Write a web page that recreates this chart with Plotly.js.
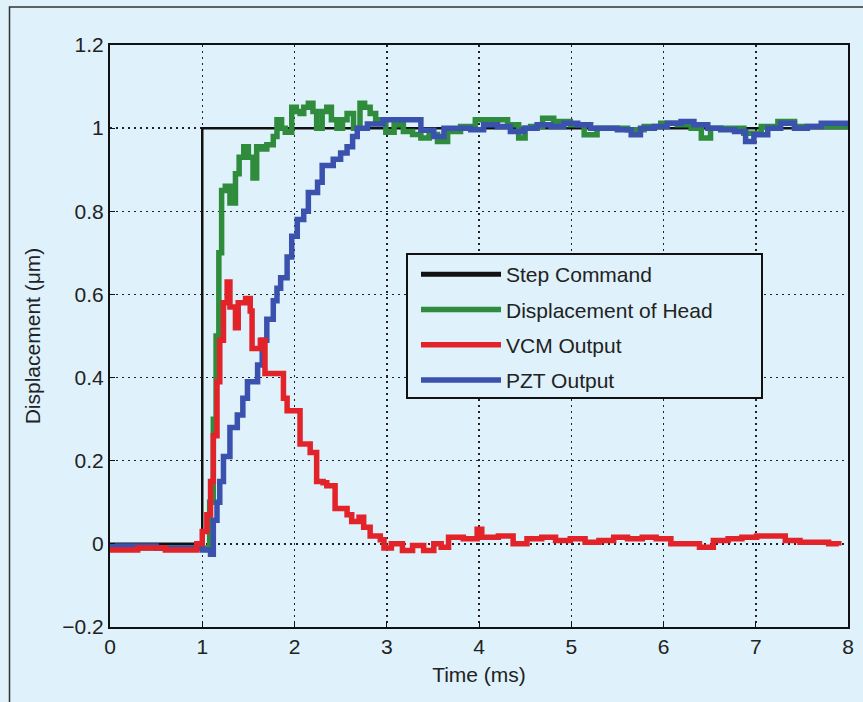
<!DOCTYPE html>
<html>
<head>
<meta charset="utf-8">
<script src="https://cdn.plot.ly/plotly-3.0.1.min.js"></script>
<style>html,body{margin:0;padding:0;background:#dff1fa;}#chart{width:863px;height:702px;}</style>
</head>
<body>
<div id="chart"></div>
<script>
// ---- data ----
var stepX = [0, 1, 8];
var stepY = [0, 1, 1];

var headX = [0, 1.08, 1.12, 1.15, 1.18, 1.21, 1.25, 1.30, 1.36, 1.40, 1.45, 1.50, 1.55, 1.59, 1.65, 1.70, 1.77, 1.81, 1.86, 1.90, 1.97, 2.02, 2.06, 2.10, 2.15, 2.20, 2.24, 2.30, 2.35, 2.40, 2.46, 2.52, 2.57, 2.64, 2.71, 2.76, 2.82, 2.88, 2.93, 2.99, 3.08, 3.18, 3.28, 3.37, 3.46, 3.55, 3.66, 3.80, 3.96, 4.13, 4.31, 4.43, 4.50, 4.56, 4.69, 4.81, 4.99, 5.14, 5.28, 5.43, 5.61, 5.79, 5.97, 6.15, 6.30, 6.41, 6.51, 6.69, 6.87, 7.06, 7.24, 7.42, 7.60, 7.89, 8.0];
var headY = [-0.01, 0.1, 0.3, 0.5, 0.7, 0.85, 0.86, 0.82, 0.89, 0.93, 0.955, 0.93, 0.88, 0.955, 0.95, 0.96, 0.98, 1.02, 1.0, 0.99, 1.05, 1.04, 1.035, 1.05, 1.06, 1.04, 1.0, 1.04, 1.05, 1.02, 1.0, 1.02, 1.035, 1.0, 1.06, 1.05, 1.035, 1.02, 1.02, 0.99, 1.008, 0.992, 0.985, 0.976, 0.985, 0.968, 0.992, 1.004, 1.02, 1.02, 1.008, 0.976, 1.0, 1.004, 1.024, 1.016, 1.008, 0.984, 1.0, 1.0, 0.996, 1.004, 1.012, 1.008, 1.0, 0.976, 1.0, 1.0, 0.988, 1.004, 1.016, 1.004, 1.004, 1.004, 1.004];

var vcmX = [0, 0.3, 0.6, 0.94, 1.0, 1.05, 1.09, 1.12, 1.16, 1.19, 1.23, 1.27, 1.30, 1.36, 1.39, 1.47, 1.52, 1.54, 1.63, 1.68, 1.81, 1.88, 1.92, 2.03, 2.06, 2.17, 2.24, 2.31, 2.35, 2.44, 2.57, 2.62, 2.70, 2.75, 2.82, 2.93, 2.97, 3.05, 3.17, 3.28, 3.40, 3.51, 3.59, 3.67, 3.83, 3.98, 4.03, 4.21, 4.37, 4.52, 4.68, 4.83, 4.99, 5.15, 5.30, 5.46, 5.61, 5.77, 5.92, 6.08, 6.23, 6.39, 6.54, 6.70, 6.85, 7.01, 7.17, 7.32, 7.48, 7.63, 7.79, 7.90];
var vcmY = [-0.015, -0.01, -0.015, 0.0, 0.03, 0.07, 0.15, 0.26, 0.39, 0.49, 0.58, 0.63, 0.57, 0.52, 0.58, 0.59, 0.56, 0.47, 0.49, 0.41, 0.41, 0.35, 0.32, 0.32, 0.24, 0.22, 0.15, 0.147, 0.14, 0.085, 0.07, 0.054, 0.064, 0.04, 0.019, 0.01, -0.01, 0.0, -0.016, -0.004, -0.016, 0.0, -0.008, 0.016, 0.012, 0.035, 0.016, 0.019, 0.0, 0.012, 0.016, 0.008, 0.012, 0.004, 0.008, 0.016, 0.012, 0.016, 0.012, 0.0, 0.0, -0.008, 0.008, 0.012, 0.016, 0.019, 0.019, 0.008, 0.004, 0.004, 0.0, -0.004];

var pztX = [0, 0.5, 0.9, 1.0, 1.09, 1.12, 1.16, 1.19, 1.23, 1.30, 1.38, 1.44, 1.49, 1.60, 1.65, 1.70, 1.77, 1.81, 1.85, 1.92, 1.97, 2.03, 2.10, 2.15, 2.25, 2.30, 2.42, 2.50, 2.57, 2.63, 2.68, 2.79, 2.96, 3.11, 3.25, 3.37, 3.51, 3.62, 3.80, 3.91, 4.05, 4.20, 4.34, 4.49, 4.63, 4.78, 4.92, 5.07, 5.21, 5.36, 5.50, 5.65, 5.75, 5.90, 6.04, 6.19, 6.33, 6.48, 6.62, 6.77, 6.89, 6.98, 7.13, 7.27, 7.42, 7.56, 7.71, 7.85, 8.0];
var pztY = [-0.005, -0.01, -0.01, -0.015, -0.025, 0.057, 0.1, 0.15, 0.21, 0.28, 0.31, 0.35, 0.39, 0.43, 0.49, 0.54, 0.585, 0.615, 0.64, 0.69, 0.74, 0.78, 0.80, 0.845, 0.87, 0.91, 0.925, 0.94, 0.955, 0.98, 1.0, 1.01, 1.02, 1.02, 1.02, 0.995, 0.98, 1.0, 1.0, 0.996, 1.008, 1.004, 0.992, 1.0, 1.008, 1.004, 1.012, 1.008, 1.0, 1.0, 0.996, 0.984, 1.0, 1.004, 1.012, 1.016, 1.008, 1.0, 0.996, 0.992, 0.968, 0.984, 1.0, 1.012, 1.0, 1.004, 1.012, 1.012, 1.004];

var seriesNames = ["Step Command", "Displacement of Head", "VCM Output", "PZT Output"];
var xTicks = [0, 1, 2, 3, 4, 5, 6, 7, 8];
var yTicks = [-0.2, 0, 0.2, 0.4, 0.6, 0.8, 1, 1.2];
var yTickText = ["\u22120.2", "0", "0.2", "0.4", "0.6", "0.8", "1", "1.2"];

// ---- styles ----
var BG = "#dff1fa";
var FONT = {family: "Liberation Sans, Arial, sans-serif", size: 21, color: "#222"};

function tr(x, y, name, color, width, rank, showleg) {
  return {x: x, y: y, name: name, type: "scatter", mode: "lines",
    line: {color: color, width: width, shape: "hv"},
    legendgroup: name, legendrank: rank, showlegend: showleg};
}

var data = [
  tr(stepX, stepY, seriesNames[0], "#111111", 2.5, 1, false),
  // legend-only entry so the legend swatch of the step command is drawn thick
  tr([null], [null], seriesNames[0], "#111111", 5, 1, true),
  tr(headX, headY, seriesNames[1], "#2f8c3c", 5.5, 2, true),
  tr(pztX, pztY, seriesNames[3], "#3a52ae", 5.5, 4, true),
  tr(vcmX, vcmY, seriesNames[2], "#e3232a", 5.5, 3, true)
];

var W = 863, H = 702, L = 110, R = 15, T = 45, B = 75;
var pw = W - L - R, ph = H - T - B;
function px(xp) { return (xp - L) / pw; }
function py(yp) { return (H - B - yp) / ph; }

var layout = {
  width: W, height: H,
  margin: {l: L, r: R, t: T, b: B},
  paper_bgcolor: BG, plot_bgcolor: BG,
  font: FONT,
  showlegend: true,
  xaxis: {
    range: [0, 8], tickvals: xTicks, ticktext: xTicks.map(String),
    showline: true, mirror: true, linecolor: "#111", linewidth: 2,
    ticks: "inside", ticklen: 5, tickcolor: "#111",
    showgrid: true, gridcolor: "#222", gridwidth: 1.5, griddash: "2px,4px",
    zeroline: false, tickfont: FONT,
    title: {text: "Time (ms)", font: FONT, standoff: 10}
  },
  yaxis: {
    range: [-0.2, 1.2], tickvals: yTicks, ticktext: yTickText,
    showline: true, mirror: true, linecolor: "#111", linewidth: 2,
    ticks: "inside", ticklen: 5, tickcolor: "#111",
    showgrid: true, gridcolor: "#222", gridwidth: 1.5, griddash: "2px,4px",
    zeroline: false, tickfont: FONT,
    title: {text: "Displacement (\u03bcm)", font: FONT, standoff: 16}
  },
  legend: {
    x: px(416), y: py(254), xanchor: "left", yanchor: "top",
    bgcolor: "rgba(0,0,0,0)", borderwidth: 0,
    font: FONT, itemwidth: 80, traceorder: "grouped", tracegroupgap: 5,
    itemclick: false
  },
  shapes: [
    {type: "rect", xref: "paper", yref: "paper",
      x0: px(407), x1: px(762), y0: py(398), y1: py(254),
      line: {color: "#111", width: 2}, fillcolor: BG, layer: "above"},
    {type: "path", xref: "paper", yref: "paper",
      path: "M" + px(9.5) + "," + py(710) + " L" + px(9.5) + "," + py(7) + " L" + px(870) + "," + py(7),
      line: {color: "#333", width: 1.5}}
  ]
};

Plotly.newPlot("chart", data, layout, {displayModeBar: false, staticPlot: true});
</script>
</body>
</html>
